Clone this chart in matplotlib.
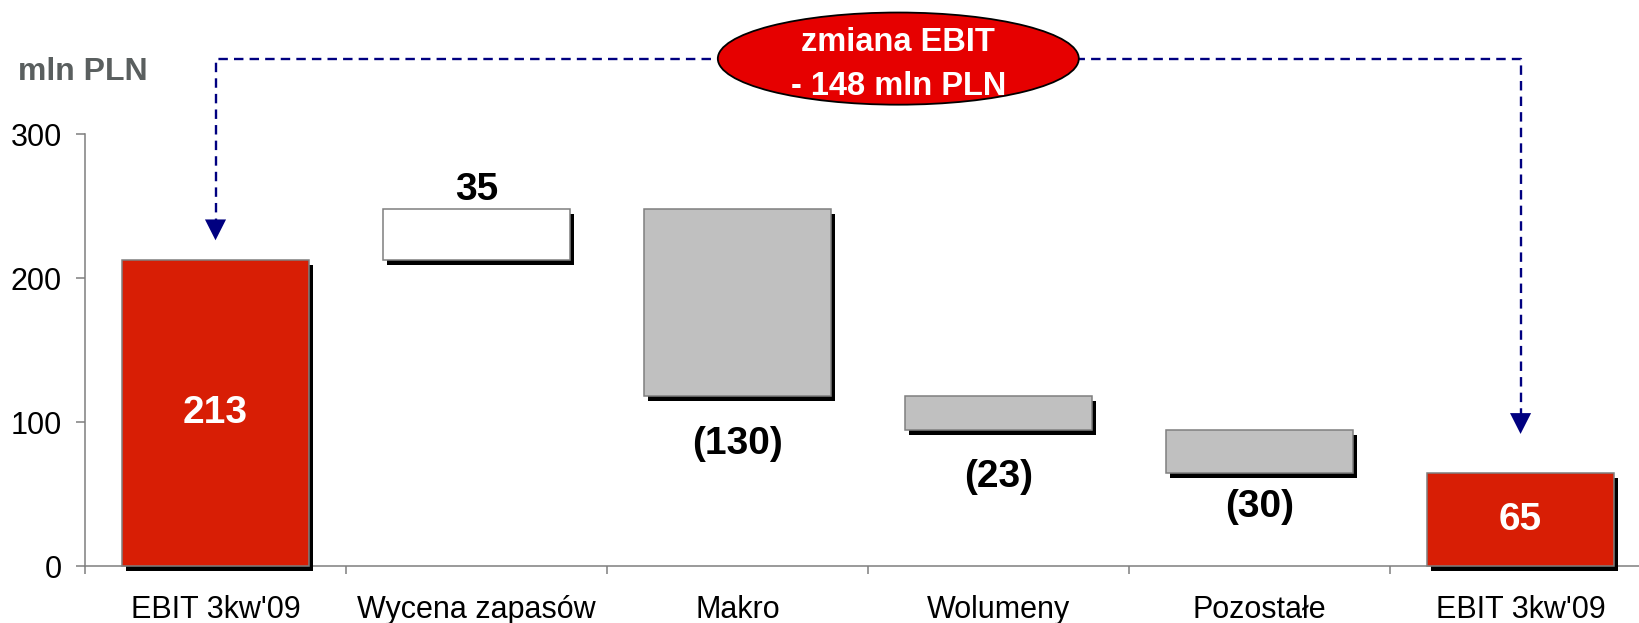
import numpy as np
import matplotlib
matplotlib.use('Agg')
import matplotlib.pyplot as plt
import matplotlib.patheffects as pe
from matplotlib.patches import Ellipse

plt.rcParams['font.family'] = ['Liberation Sans', 'DejaVu Sans']

# dane
categories = ['EBIT 3kw\'09', 'Wycena zapasów', 'Makro', 'Wolumeny', 'Pozostałe', 'EBIT 3kw\'09']
ebit_start = 213
changes = [35, -130, -23, -30]
ebit_end = 65
yticks = [0, 100, 200, 300]
unit_label = 'mln PLN'
bubble_lines = ['zmiana EBIT', '- 148 mln PLN']

# waterfall: dolna krawedz i wysokosc kazdego slupka
levels = np.cumsum([ebit_start] + changes)
bottoms = [0] + [min(levels[i], levels[i + 1]) for i in range(len(changes))] + [0]
heights = [ebit_start] + [abs(c) for c in changes] + [ebit_end]
tops = [b + h for b, h in zip(bottoms, heights)]

red = '#D81E05'
fills = [red, 'white', '#C0C0C0', '#C0C0C0', '#C0C0C0', red]
edge = '#7F7F7F'
navy = '#000080'

fig = plt.figure(figsize=(16.39, 6.23), dpi=100)
ax = fig.add_axes([0.05186, 0.091, 0.9555, 0.909])

x = np.arange(len(categories))
bars = ax.bar(x, heights, bottom=bottoms, width=0.717, color=fills,
              edgecolor=edge, linewidth=1.1, zorder=3, clip_on=False)
for b in bars:
    b.set_path_effects([pe.SimplePatchShadow(offset=(2.7, -3.6), shadow_rgbFace='black', alpha=1.0),
                        pe.Normal()])

ax.set_xlim(-0.5, len(categories) - 0.5)
ax.set_ylim(0, 393.3)

# osie
for s in ['top', 'right']:
    ax.spines[s].set_visible(False)
ax.spines['left'].set_bounds(0, 300)
ax.spines['left'].set_color(edge)
ax.spines['bottom'].set_color(edge)
ax.spines['left'].set_linewidth(1.1)
ax.spines['bottom'].set_linewidth(1.1)

ax.set_yticks(yticks)
ax.tick_params(axis='y', length=6.5, width=1.1, color=edge, pad=10, labelsize=22)
ax.set_xticks(x)
ax.set_xticklabels(categories)
ax.set_xticks(np.arange(-0.5, len(categories)), minor=True)
ax.tick_params(axis='x', which='major', length=0, pad=21, labelsize=22)
ax.tick_params(axis='x', which='minor', length=6, width=1.1, color=edge)

# etykiety wartosci
ax.text(x[0], ebit_start / 2, str(ebit_start), ha='center', va='center',
        color='white', fontsize=28, fontweight='bold', zorder=5)
ax.text(x[-1], ebit_end / 2, str(ebit_end), ha='center', va='center',
        color='white', fontsize=28, fontweight='bold', zorder=5)
neg_gap = [21, 21, 12]  # odstep (pt) etykiet ujemnych
k = 0
for i, c in enumerate(changes, start=1):
    if c > 0:
        ax.annotate(str(c), (x[i], tops[i]), xytext=(0, 1), textcoords='offset points',
                    ha='center', va='bottom', fontsize=28, fontweight='bold')
    else:
        ax.annotate('(%d)' % abs(c), (x[i], bottoms[i]), xytext=(0, -neg_gap[k]),
                    textcoords='offset points', ha='center', va='top',
                    fontsize=28, fontweight='bold')
        k += 1

# przerywana linia ze strzalkami
y_line = 352.6
tip1 = tops[0] + 11.5
tip2 = tops[-1] + 25
head = 10.5
ax.plot([x[0], x[0], x[-1], x[-1]], [tip1 + head, y_line, y_line, tip2 + head],
        color=navy, lw=1.7, linestyle=(0, (4, 2.6)), zorder=2, clip_on=False)
for xx, tip in [(x[0], tip1), (x[-1], tip2)]:
    ax.annotate('', xy=(xx, tip), xytext=(xx, tip + head + 0.5),
                arrowprops=dict(arrowstyle='-|>,head_length=0.75,head_width=0.38',
                                color=navy, lw=0, mutation_scale=20), zorder=4)

# elipsa
ell = Ellipse((2.616, 352.6), width=1.383, height=64, facecolor='#E60000',
              edgecolor='black', linewidth=1.3, zorder=6, clip_on=False)
ax.add_patch(ell)
ax.text(2.616, 364, bubble_lines[0], ha='center', va='center', color='white',
        fontsize=23.5, fontweight='bold', zorder=7)
ax.text(2.616, 333.5, bubble_lines[1], ha='center', va='center', color='white',
        fontsize=23.5, fontweight='bold', zorder=7)

fig.text(18 / 1639, 1 - 72 / 623, unit_label, ha='left', va='center',
         fontsize=23, fontweight='bold', color='#5A5F5F')

fig.savefig('out.png', dpi=100)
